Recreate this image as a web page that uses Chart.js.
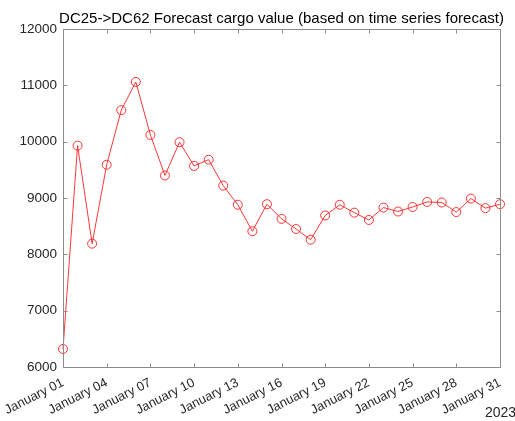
<!DOCTYPE html>
<html>
<head>
<meta charset="utf-8">
<script src="https://cdn.jsdelivr.net/npm/chart.js@4"></script>
<style>
  html, body { margin: 0; padding: 0; background: #fff; }
  #wrap { width: 515px; height: 421px; }
</style>
</head>
<body>
<div id="wrap"><canvas id="cargoChart"></canvas></div>
<script>
// day of January 2023
var days = [1, 2, 3, 4, 5, 6, 7, 8, 9, 10, 11, 12, 13, 14, 15, 16,
            17, 18, 19, 20, 21, 22, 23, 24, 25, 26, 27, 28, 29, 30, 31];
// forecast cargo value
var cargoValues = [6320, 9930, 8190, 9590, 10560, 11060, 10120, 9400, 9990, 9570,
                   9680, 9220, 8880, 8410, 8890, 8630, 8450, 8260, 8690, 8880,
                   8740, 8610, 8830, 8760, 8840, 8930, 8920, 8750, 8990, 8820, 8890];
var xTicks = [1, 4, 7, 10, 13, 16, 19, 22, 25, 28, 31];
var yTicks = [6000, 7000, 8000, 9000, 10000, 11000, 12000];
var chartTitle = 'DC25->DC62 Forecast cargo value (based on time series forecast)';
var yearLabel = '2023';

var FONT = 'Arial, "Liberation Sans", sans-serif';
var AXIS_COLOR = '#8c8c8c';
var TEXT_COLOR = '#262626';

function pad2(n) { return n < 10 ? '0' + n : '' + n; }

// box around the axes with ticks pointing inward, MATLAB style
// plus the title over the axes and the year under the last tick
var matlabBox = {
  id: 'matlabBox',
  afterDraw: function(chart) {
    var ctx = chart.ctx, a = chart.chartArea;
    var xs = chart.scales.x, ys = chart.scales.y;
    var L = Math.round(a.left) + 0.5, R = Math.round(a.right) + 0.5;
    var T = Math.round(a.top) + 0.5, B = Math.round(a.bottom) + 0.5;
    ctx.save();
    ctx.strokeStyle = AXIS_COLOR;
    ctx.lineWidth = 1;
    ctx.beginPath();
    ctx.rect(L, T, R - L, B - T);
    xTicks.forEach(function(d) {
      var px = Math.round(xs.getPixelForValue(d)) + 0.5;
      ctx.moveTo(px, B); ctx.lineTo(px, B - 4);
      ctx.moveTo(px, T); ctx.lineTo(px, T + 4);
    });
    yTicks.forEach(function(v) {
      var py = Math.round(ys.getPixelForValue(v)) + 0.5;
      ctx.moveTo(L, py); ctx.lineTo(L + 4, py);
      ctx.moveTo(R, py); ctx.lineTo(R - 4, py);
    });
    ctx.stroke();

    ctx.fillStyle = '#000';
    ctx.font = '15px ' + FONT;
    ctx.textAlign = 'center';
    ctx.textBaseline = 'alphabetic';
    ctx.fillText(chartTitle, (a.left + a.right) / 2, a.top - 6);

    ctx.fillStyle = TEXT_COLOR;
    ctx.font = '14px ' + FONT;
    ctx.textAlign = 'left';
    ctx.fillText(yearLabel, a.right - 15, chart.height - 4);
    ctx.restore();
  }
};

var ctx = document.getElementById('cargoChart').getContext('2d');
var cargoChart = new Chart(ctx, {
  type: 'line',
  data: {
    datasets: [{
      label: 'Forecast',
      data: days.map(function(d, i) { return { x: d, y: cargoValues[i] }; }),
      borderColor: '#ff2020',
      borderWidth: 0.9,
      backgroundColor: 'rgba(0,0,0,0)',
      pointBorderColor: '#ff2020',
      pointBackgroundColor: 'rgba(0,0,0,0)',
      pointBorderWidth: 0.9,
      pointRadius: 4.5,
      pointHoverRadius: 4.5,
      tension: 0,
      clip: 6
    }]
  },
  options: {
    responsive: true,
    maintainAspectRatio: false,
    animation: false,
    devicePixelRatio: 1,
    layout: { padding: { left: 0, right: 15, top: 29, bottom: 0 } },
    plugins: {
      legend: { display: false },
      tooltip: { enabled: false },
      title: { display: false }
    },
    scales: {
      x: {
        type: 'linear',
        min: 1,
        max: 31,
        afterBuildTicks: function(scale) {
          scale.ticks = xTicks.map(function(v) { return { value: v }; });
        },
        afterFit: function(scale) {
          scale.height = 54;
          scale.paddingLeft = 0;
          scale.paddingRight = 0;
        },
        grid: { display: false, drawTicks: false },
        border: { display: false },
        ticks: {
          color: TEXT_COLOR,
          font: { family: FONT, size: 13 },
          minRotation: 27,
          maxRotation: 27,
          padding: 8,
          autoSkip: false,
          callback: function(v) { return 'January ' + pad2(v); }
        }
      },
      y: {
        type: 'linear',
        min: 6000,
        max: 12000,
        afterBuildTicks: function(scale) {
          scale.ticks = yTicks.map(function(v) { return { value: v }; });
        },
        afterFit: function(scale) { scale.width = 63; },
        grid: { display: false, drawTicks: false },
        border: { display: false },
        ticks: {
          color: TEXT_COLOR,
          font: { family: FONT, size: 13.5 },
          padding: 6,
          callback: function(v) { return '' + v; }
        }
      }
    }
  },
  plugins: [matlabBox]
});
</script>
</body>
</html>
